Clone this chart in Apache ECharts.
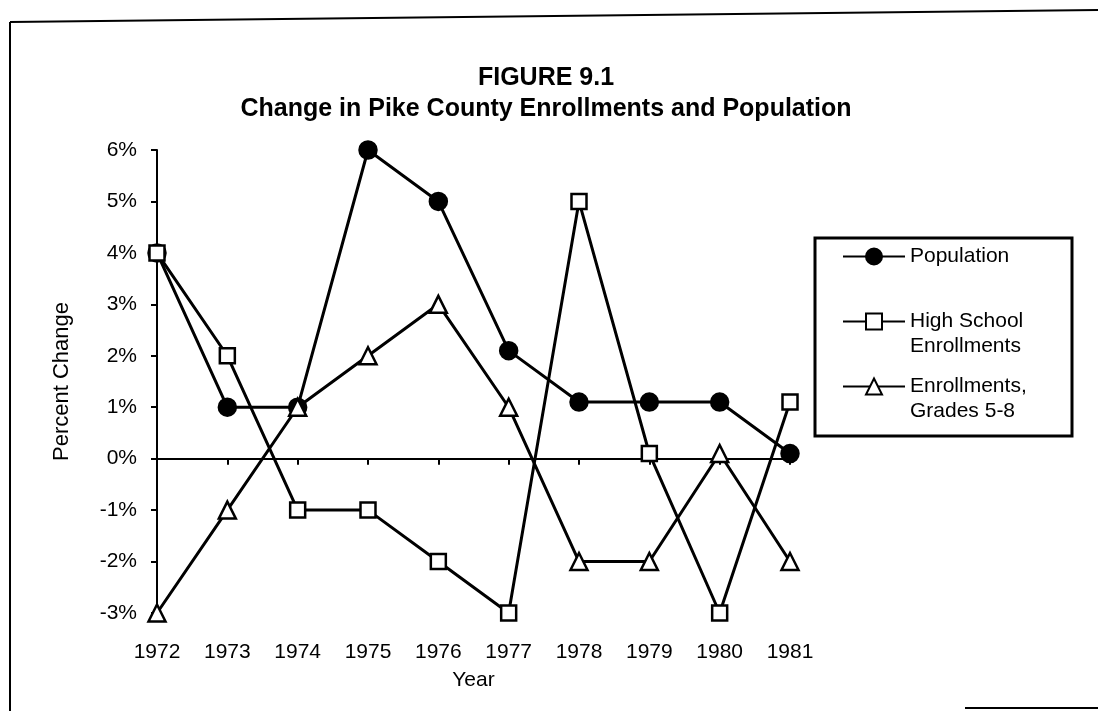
<!DOCTYPE html>
<html>
<head>
<meta charset="utf-8">
<script src="https://cdn.jsdelivr.net/npm/echarts@6/dist/echarts.min.js"></script>
<style>
  html, body { margin: 0; padding: 0; background: #fff; }
  #chart { width: 1098px; height: 711px; }
</style>
</head>
<body>
<div id="chart"></div>
<script>
var years = ['1972', '1973', '1974', '1975', '1976', '1977', '1978', '1979', '1980', '1981'];
var population = [4, 1, 1, 6, 5, 2.1, 1.1, 1.1, 1.1, 0.1];
var highSchool = [4, 2, -1, -1, -2, -3, 5, 0.1, -3, 1.1];
var grades58 = [-3, -1, 1, 2, 3, 1, -2, -2, 0.1, -2];

// blank first/last lines keep the legend icon level with the first text line
var legendText = {
    'Population': '\nPopulation\n ',
    'High School Enrollments': '\nHigh School\nEnrollments',
    'Enrollments, Grades 5-8': '\nEnrollments,\nGrades 5-8'
};

var font = 'Arial, "Liberation Sans", Helvetica, sans-serif';
var myChart = echarts.init(document.getElementById('chart'));

function lineSeries(name, data, symbol, size, fill) {
    return {
        name: name,
        type: 'line',
        data: data,
        symbol: symbol,
        symbolSize: size,
        showAllSymbol: true,
        lineStyle: { color: '#000', width: 3 },
        itemStyle: { color: fill, borderColor: '#000', borderWidth: 2.5 },
        emphasis: { disabled: true },
        animation: false
    };
}

myChart.setOption({
    backgroundColor: '#fff',
    textStyle: { fontFamily: font, color: '#000' },
    title: {
        text: 'FIGURE 9.1\nChange in Pike County Enrollments and Population',
        left: 541,
        top: 58,
        textAlign: 'center',
        textStyle: { fontSize: 25, fontWeight: 'bold', lineHeight: 31, color: '#000', fontFamily: font }
    },
    legend: {
        orient: 'vertical',
        left: 842,
        top: 219,
        padding: 0,
        itemGap: -10,
        itemWidth: 62,
        itemHeight: 20,
        formatter: function (name) { return legendText[name]; },
        textStyle: { fontSize: 21, lineHeight: 25, color: '#000', fontFamily: font },
        data: ['Population', 'High School Enrollments', 'Enrollments, Grades 5-8']
    },
    grid: { left: 157, right: 308, top: 150, bottom: 98 },
    xAxis: [{
        type: 'category',
        data: years,
        boundaryGap: false,
        position: 'bottom',
        axisLine: { show: false, onZero: false },
        axisTick: { show: false },
        axisLabel: { fontSize: 21, color: '#000', margin: 29, fontFamily: font },
        name: 'Year',
        nameLocation: 'middle',
        nameGap: 57,
        nameTextStyle: { fontSize: 21, color: '#000', fontFamily: font }
    }, {
        type: 'category',
        data: years,
        boundaryGap: false,
        position: 'bottom',
        axisLine: { onZero: true, lineStyle: { color: '#000', width: 2 } },
        axisTick: { show: true, length: 6, lineStyle: { color: '#000', width: 2 } },
        axisLabel: { show: false }
    }],
    yAxis: {
        type: 'value',
        min: -3,
        max: 6,
        interval: 1,
        splitLine: { show: false },
        axisLine: { show: true, lineStyle: { color: '#000', width: 2 } },
        axisTick: { show: true, length: 6, lineStyle: { color: '#000', width: 2 } },
        axisLabel: { formatter: '{value}%', fontSize: 21, color: '#000', margin: 20, fontFamily: font },
        name: 'Percent Change',
        nameLocation: 'middle',
        nameGap: 84,
        nameTextStyle: { fontSize: 22, color: '#000', fontFamily: font }
    },
    series: [
        lineSeries('Population', population, 'circle', 17, '#000'),
        lineSeries('High School Enrollments', highSchool, 'rect', 15, '#fff'),
        lineSeries('Enrollments, Grades 5-8', grades58, 'triangle', 17, '#fff')
    ],
    graphic: [
        { type: 'line', shape: { x1: 10, y1: 22, x2: 1098, y2: 10 }, style: { stroke: '#000', lineWidth: 2 } },
        { type: 'line', shape: { x1: 10, y1: 22, x2: 10, y2: 711 }, style: { stroke: '#000', lineWidth: 2 } },
        { type: 'line', shape: { x1: 965, y1: 708, x2: 1098, y2: 708 }, style: { stroke: '#000', lineWidth: 2 } },
        { type: 'rect', shape: { x: 815, y: 238, width: 257, height: 198 }, style: { fill: null, stroke: '#000', lineWidth: 3 } }
    ]
});
</script>
</body>
</html>
